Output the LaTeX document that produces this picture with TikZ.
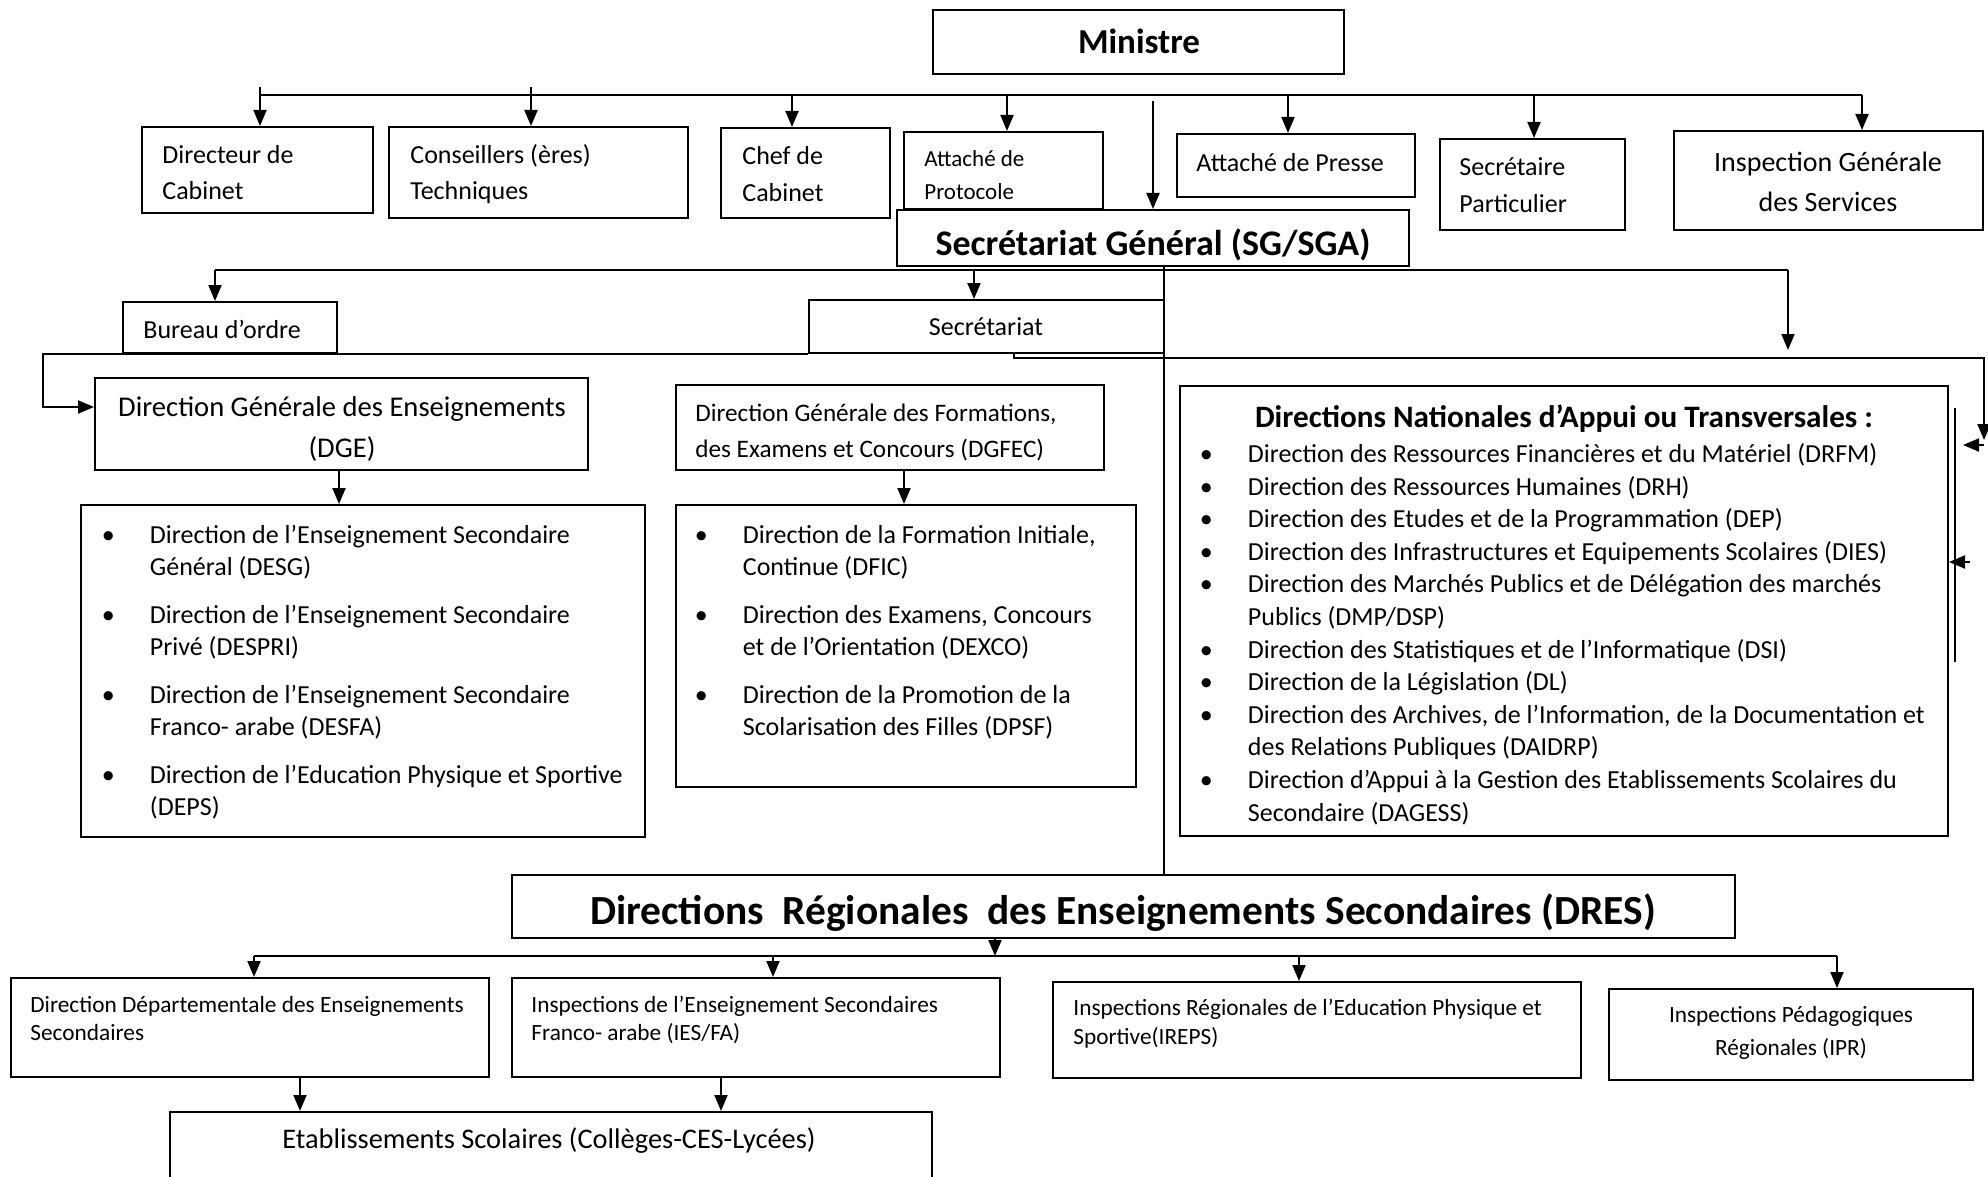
\documentclass[tikz,border=0pt]{standalone}
\usepackage{fontspec}
\setmainfont{Carlito}
\usetikzlibrary{arrows.meta, fit}

\newcommand{\fsz}[2]{\fontsize{#1}{#2}\selectfont}
\newcommand{\bul}{\makebox[0pt][c]{\textbullet}\hspace*{20.75pt}}
\newcommand{\skipb}{\hspace*{20.75pt}}

\tikzset{
  box/.style={draw, line width=1pt, inner sep=0pt},
  txt/.style={inner sep=0pt, anchor=base west, align=left},
  ctxt/.style={inner sep=0pt, anchor=base, align=center},
  link/.style={line width=1pt},
  bus/.style={line width=1.3pt},
  arr/.style={line width=1pt, -{Triangle[length=8pt,width=6.5pt]}},
}

\begin{document}
\begin{tikzpicture}[x=0.5pt, y=-0.5pt]
\useasboundingbox (0,0) rectangle (1988,1177);

% Ministre and cabinet (text nodes sit on their last baseline)
\node[box, fit={(933,10) (1344,74)}] (min) {};
\node[ctxt, font=\bfseries\fsz{17.5}{21}] (minT) at (1139,54) {Ministre};

\node[box, fit={(142,127) (373,213)}] (dircab) {};
\node[box, fit={(389,127) (688,218)}] (cons) {};
\node[box, fit={(721,128) (890,218)}] (chef) {};
\node[box, fit={(904,132) (1103,209)}] (proto) {};
\node[box, fit={(1177,134) (1415,197)}] (presse) {};
\node[box, fit={(1440,139) (1625,230)}] (secpart) {};
\node[box, fit={(1674,131) (1983,230)}] (igs) {};

\node[txt, font=\fsz{13}{18}] (dircabT) at (162,199) {Directeur de\\Cabinet};
\node[txt, font=\fsz{13}{18}] (consT) at (410,199) {Conseillers (ères)\\Techniques};
\node[txt, font=\fsz{13}{18}] (chefT) at (742,201) {Chef de\\Cabinet};
\node[txt, font=\fsz{11.5}{16.5}] (protoT) at (924,199) {Attaché de\\Protocole};
\node[txt, font=\fsz{13}{18}] (presseT) at (1196,171) {Attaché de Presse};
\node[txt, font=\fsz{13}{18.5}] (secpartT) at (1459,213) {Secrétaire\\Particulier};
\node[ctxt, font=\fsz{14}{20}] (igsT) at (1828,212) {Inspection Générale\\des Services};

\coordinate (bl) at (260,95);
\coordinate (br) at (1862,95);
\draw[bus] (bl) -- (br);
\foreach \x/\y/\n in {260/87/dircab, 531/87/cons, 792/95/chef, 1007/95/proto,
                      1288/95/presse, 1534/95/secpart, 1862/95/igs}{
  \coordinate (b\n) at (\x,\y);
  \draw[arr] (b\n) -- (b\n |- \n.north);
}

% secretariat general
\node[box, fit={(897,210) (1409,266)}] (sg) {};
\node[ctxt, font=\bfseries\fsz{18}{22}] (sgT) at (1153,256) {Secrétariat Général (SG/SGA)};
\coordinate (bsg) at (1153,101);
\draw[arr] (bsg) -- (sg.north);

\node[box, fit={(123,302) (337,353)}] (bur) {};
\node[txt, font=\fsz{13}{16}] (burT) at (143,338) {Bureau d’ordre};
\node[box, fit={(809,300) (1164,353)}] (secr) {};
\node[ctxt, font=\fsz{13}{16}] (secrT) at (986,335) {Secrétariat};

\coordinate (sl) at (215,270);
\coordinate (sm) at (974,270);
\coordinate (sr) at (1788,270);
\coordinate (se) at (1788,350);
\draw[link] (sl) -- (sr);
\draw[arr] (sl) -- (sl |- bur.north);
\draw[arr] (sm) -- (sm |- secr.north);
\draw[arr] (sr) -- (se);

\coordinate (spine) at (1164,0);
\coordinate (c1) at (43,407);
\coordinate (r1) at (1014,358);
\coordinate (r2) at (1984,440);
\coordinate (r3) at (1984,445);
\coordinate (r4) at (1963,445);
\coordinate (q1) at (1955,408);
\coordinate (q2) at (1955,662);
\coordinate (q3) at (1970,562);

% directions generales
\node[box, fit={(95,378) (588,470)}] (dge) {};
\node[ctxt, font=\fsz{14.3}{20.5}] (dgeT) at (342,457) {Direction Générale des Enseignements\\(DGE)};
\node[box, fit={(676,385) (1104,470)}] (dgfec) {};
\node[txt, font=\fsz{12.6}{18}] (dgfecT) at (695,457) {Direction Générale des Formations,\\des Examens et Concours (DGFEC)};

\draw[arr] (secr.south west) -| (c1) -- (c1 -| dge.west);
\draw[arr] (secr.south -| r1) -- (r1) -| (r2);
\draw[arr] (r3) -- (r4);
\draw[link] (q1) -- (q2);
\draw[arr] (q3) -- (q3 -| 1949,0);

\node[box, fit={(81,505) (645,837)}] (dgeL) {};
\node[txt, font=\fsz{13}{15.85}] (dgeLT) at (108,815) {%
  \bul Direction de l’Enseignement Secondaire\\\skipb Général (DESG)\\[8.3pt]
  \bul Direction de l’Enseignement Secondaire\\\skipb Privé (DESPRI)\\[8.3pt]
  \bul Direction de l’Enseignement Secondaire\\\skipb Franco- arabe (DESFA)\\[8.3pt]
  \bul Direction de l’Education Physique et Sportive\\\skipb (DEPS)};
\node[box, fit={(676,505) (1136,787)}] (dgfecL) {};
\node[txt, font=\fsz{13}{15.85}] (dgfecLT) at (701,735) {%
  \bul Direction de la Formation Initiale,\\\skipb Continue (DFIC)\\[8.3pt]
  \bul Direction des Examens, Concours\\\skipb et de l’Orientation (DEXCO)\\[8.3pt]
  \bul Direction de la Promotion de la\\\skipb Scolarisation des Filles (DPSF)};

\draw[arr] (dge.south -| 339,0) -- (dgeL.north -| 339,0);
\draw[arr] (dgfec.south -| 904,0) -- (dgfecL.north -| 904,0);

% directions nationales
\node[box, fit={(1180,386) (1948,836)}] (dnat) {};
\node[ctxt, font=\bfseries\fsz{15.6}{19}] (dnatT) at (1564,427) {Directions Nationales d’Appui ou Transversales :};
\node[txt, font=\fsz{13}{16.3}] (dnatL) at (1206,821) {%
  \bul Direction des Ressources Financières et du Matériel (DRFM)\\
  \bul Direction des Ressources Humaines (DRH)\\
  \bul Direction des Etudes et de la Programmation (DEP)\\
  \bul Direction des Infrastructures et Equipements Scolaires (DIES)\\
  \bul Direction des Marchés Publics et de Délégation des marchés\\\skipb Publics (DMP/DSP)\\
  \bul Direction des Statistiques et de l’Informatique (DSI)\\
  \bul Direction de la Législation (DL)\\
  \bul Direction des Archives, de l’Information, de la Documentation et\\\skipb des Relations Publiques (DAIDRP)\\
  \bul Direction d’Appui à la Gestion des Etablissements Scolaires du\\\skipb Secondaire (DAGESS)};

% directions regionales
\node[box, fit={(512,875) (1735,938)}] (dres) {};
\node[ctxt, font=\bfseries\fsz{20.7}{25}] (dresT) at (1123,924) {Directions\ \ Régionales\ \ des Enseignements Secondaires (DRES)};
\draw[link] (sg.south -| spine) -- (dres.north -| spine);

\node[box, fit={(11,978) (489,1077)}] (ddes) {};
\node[box, fit={(512,978) (1000,1077)}] (ies) {};
\node[box, fit={(1053,982) (1581,1078)}] (ireps) {};
\node[box, fit={(1609,989) (1973,1080)}] (ipr) {};
\node[txt, font=\fsz{11.65}{14}] (ddesT) at (30,1040) {Direction Départementale des Enseignements\\Secondaires};
\node[txt, font=\fsz{11.65}{14}] (iesT) at (531,1040) {Inspections de l’Enseignement Secondaires\\Franco- arabe (IES/FA)};
\node[txt, font=\fsz{11.65}{14.5}] (irepsT) at (1073,1044) {Inspections Régionales de l’Education Physique et\\Sportive(IREPS)};
\node[ctxt, font=\fsz{11.65}{16.5}] (iprT) at (1791,1055) {Inspections Pédagogiques\\Régionales (IPR)};

\coordinate (d0) at (995,956);
\coordinate (dl) at (254,956);
\coordinate (dr) at (1837,956);
\draw[arr] (dres.south -| d0) -- (d0);
\draw[bus] (dl) -- (dr);
\draw[arr] (dl) -- (dl |- ddes.north);
\draw[arr] (773,956) -- (ies.north -| 773,0);
\draw[arr] (1299,956) -- (ireps.north -| 1299,0);
\draw[arr] (dr) -- (dr |- ipr.north);

\node[box, fit={(170,1112) (932,1200)}] (etab) {};
\node[ctxt, font=\fsz{14.2}{17}] (etabT) at (549,1148) {Etablissements Scolaires (Collèges-CES-Lycées)};
\draw[arr] (ddes.south -| 300,0) -- (etab.north -| 300,0);
\draw[arr] (ies.south -| 721,0) -- (etab.north -| 721,0);
\end{tikzpicture}
\end{document}
